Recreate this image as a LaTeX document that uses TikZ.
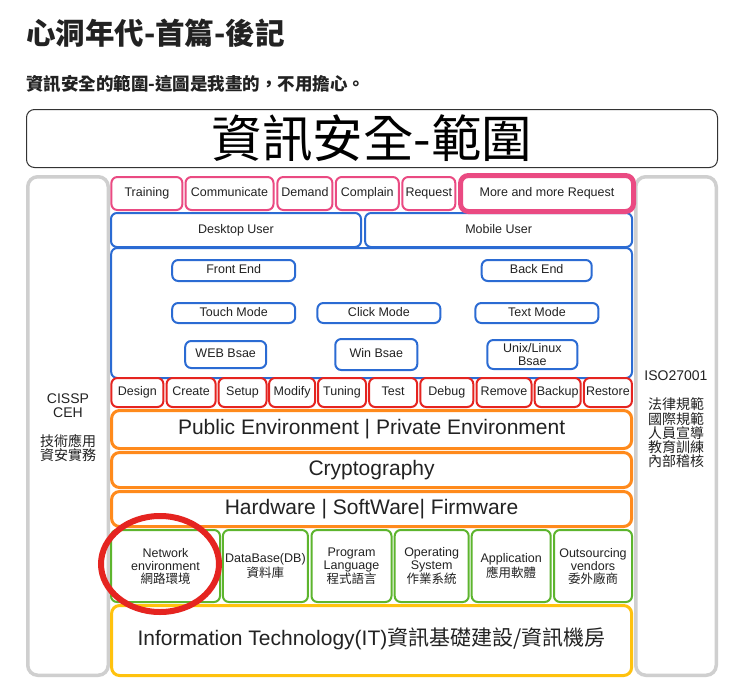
\documentclass[tikz,border=0pt]{standalone}
\usepackage{fontspec}
\setmainfont{Liberation Sans}
\newfontfamily\cjk{Noto Sans CJK TC}
\definecolor{pinkc}{HTML}{EA4A82}
\definecolor{bluec}{HTML}{2B6BD3}
\definecolor{redc}{HTML}{E52420}
\definecolor{orangec}{HTML}{FF8A1C}
\definecolor{greenc}{HTML}{5DB52E}
\definecolor{yellowc}{HTML}{FFC20E}
\definecolor{grayc}{HTML}{CFCFCF}
\definecolor{txt}{HTML}{222222}
\begin{document}
\begin{tikzpicture}[x=1pt,y=-1pt,
  box/.style={rounded corners=6pt, fill=white, inner sep=0pt, align=center, text=txt,
    font=\fontsize{12.5}{13}\selectfont},
  oneline/.style={text height=9.1pt, text depth=2.6pt},
  bigline/.style={text height=15.2pt, text depth=4.4pt},
  pinkbox/.style={box, oneline, draw=pinkc, line width=2pt, minimum height=33pt},
  morebox/.style={box, oneline, draw=pinkc, line width=5pt, minimum height=36pt, rounded corners=8pt},
  bluebox/.style={box, draw=bluec, line width=2pt},
  redbox/.style={box, oneline, draw=redc, line width=2pt, minimum height=29pt},
  orangebox/.style={box, bigline, draw=orangec, line width=3pt, rounded corners=8pt, minimum width=520pt,
    font=\fontsize{21}{23}\selectfont},
  greenbox/.style={box, draw=greenc, line width=2pt, minimum height=72pt},
  yellowbox/.style={box, bigline, draw=yellowc, line width=3pt, rounded corners=8pt, minimum width=520pt,
    minimum height=70pt, font=\fontsize{21}{23}\selectfont},
  graycol/.style={draw=grayc, line width=3.5pt, rounded corners=10pt, fill=white},
  sidetext/.style={align=center, inner sep=0pt, text=txt}
]
\useasboundingbox (0,0) rectangle (742,694);
\fill[white] (0,0) rectangle (742,694);

% headings
\node[anchor=west, inner sep=0pt, text=txt, font=\cjk\bfseries\fontsize{29.5}{30}\selectfont] (head) at (26,33) {心洞年代-首篇-後記};
\node[anchor=west, inner sep=0pt, text=txt, font=\cjk\bfseries\fontsize{17.5}{18}\selectfont] (sub) at (26,84) {資訊安全的範圍-這圖是我畫的，不用擔心。};

% title box
\node[draw=black!80, line width=1pt, rounded corners=8pt, minimum width=691pt, minimum height=58pt, inner sep=0pt, font=\cjk\fontsize{50.5}{52}\selectfont, text=black] (title) at (372,138.5) {資訊安全-範圍};

% side columns
\node[graycol, minimum width=80.5pt, minimum height=498.5pt] (leftcol) at (68,426) {};
\node[graycol, minimum width=80.5pt, minimum height=498.5pt] (rightcol) at (676,426) {};

\node[sidetext, font=\fontsize{14}{13.5}\selectfont] (cissp) at (68,405.5) {CISSP\\CEH};
\node[sidetext, font=\cjk\fontsize{14}{14}\selectfont] (techL) at (68,448) {技術應用\\資安實務};
\node[sidetext, font=\fontsize{14}{14}\selectfont] (iso) at (676,376) {ISO27001};
\node[sidetext, font=\cjk\fontsize{14}{14.3}\selectfont] (lawR) at (676,433) {法律規範\\國際規範\\人員宣導\\教育訓練\\內部稽核};

% blue area
\draw[draw=bluec, line width=2pt, rounded corners=6pt, fill=white] (111.2,248) rectangle (632,378);

% blue row
\node[bluebox, oneline, minimum width=250pt, minimum height=34pt] (desk) at (236,230) {Desktop User};
\node[bluebox, oneline, minimum width=267pt, minimum height=34pt] (mob) at (498.6,230) {Mobile User};

% pink row
\node[pinkbox, minimum width=71pt] (train) at (146.9,193.5) {Training};
\node[pinkbox, minimum width=88pt] (comm) at (229.5,193.5) {Communicate};
\node[pinkbox, minimum width=55pt] (dem) at (304.9,193.5) {Demand};
\node[pinkbox, minimum width=63pt] (compl) at (367.3,193.5) {Complain};
\node[pinkbox, minimum width=53pt] (req) at (428.8,193.5) {Request};
\node[morebox, minimum width=173pt] (more) at (547,193.5) {More and more Request};

% inner blue boxes
\node[bluebox, oneline, minimum width=123pt, minimum height=21pt] (front) at (233.7,270.5) {Front End};
\node[bluebox, oneline, minimum width=110pt, minimum height=21pt] (back) at (536.7,270.5) {Back End};
\node[bluebox, oneline, minimum width=123pt, minimum height=20pt] (touch) at (233.7,313) {Touch Mode};
\node[bluebox, oneline, minimum width=123pt, minimum height=20pt] (click) at (378.9,313) {Click Mode};
\node[bluebox, oneline, minimum width=123pt, minimum height=20pt] (textm) at (536.9,313) {Text Mode};
\node[bluebox, oneline, minimum width=81pt, minimum height=27pt] (web) at (225.7,354.5) {WEB Bsae};
\node[bluebox, oneline, minimum width=82pt, minimum height=31pt] (win) at (376.3,354.5) {Win Bsae};
\node[bluebox, minimum width=90pt, minimum height=29pt, font=\fontsize{12.5}{12.4}\selectfont] (unix) at (532.4,354.5) {Unix/Linux\\Bsae};

% red row
\node[redbox, minimum width=52pt] (design) at (137.4,392.5) {Design};
\node[redbox, minimum width=49pt] (create) at (191.1,392.5) {Create};
\node[redbox, minimum width=48pt] (setup) at (242.5,392.5) {Setup};
\node[redbox, minimum width=46pt] (modify) at (292.1,392.5) {Modify};
\node[redbox, minimum width=48pt] (tuning) at (342,392.5) {Tuning};
\node[redbox, minimum width=48pt] (test) at (393.1,392.5) {Test};
\node[redbox, minimum width=53pt] (debug) at (446.8,392.5) {Debug};
\node[redbox, minimum width=55pt] (remove) at (504,392.5) {Remove};
\node[redbox, minimum width=46pt] (backup) at (557.7,392.5) {Backup};
\node[redbox, minimum width=48pt] (restore) at (607.9,392.5) {Restore};

% orange rows
\node[orangebox, minimum height=38pt] (pub) at (371.6,429.5) {Public Environment | Private Environment};
\node[orangebox, minimum height=35pt] (crypto) at (371.6,470) {Cryptography};
\node[orangebox, minimum height=35pt] (hw) at (371.6,509) {Hardware | SoftWare| Firmware};

% green row
\node[greenbox, minimum width=109pt] (net) at (165.5,566) {Network\\environment\\{\cjk 網路環境}};
\node[greenbox, minimum width=85pt] (db) at (265.4,566) {DataBase(DB)\\{\cjk 資料庫}};
\node[greenbox, minimum width=80pt] (prog) at (351.5,566) {Program\\Language\\{\cjk 程式語言}};
\node[greenbox, minimum width=74pt] (os) at (431.7,566) {Operating\\System\\{\cjk 作業系統}};
\node[greenbox, minimum width=79pt] (app) at (511.2,566) {Application\\{\cjk 應用軟體}};
\node[greenbox, minimum width=78pt] (out) at (593,566) {Outsourcing\\vendors\\{\cjk 委外廠商}};

% IT row
\node[yellowbox] (it) at (371.6,640.5) {Information Technology(IT){\cjk 資訊基礎建設/資訊機房}};

% highlight ellipse
\draw[redc, line width=6pt] (160,564) ellipse [x radius=59, y radius=48];
\end{tikzpicture}
\end{document}
